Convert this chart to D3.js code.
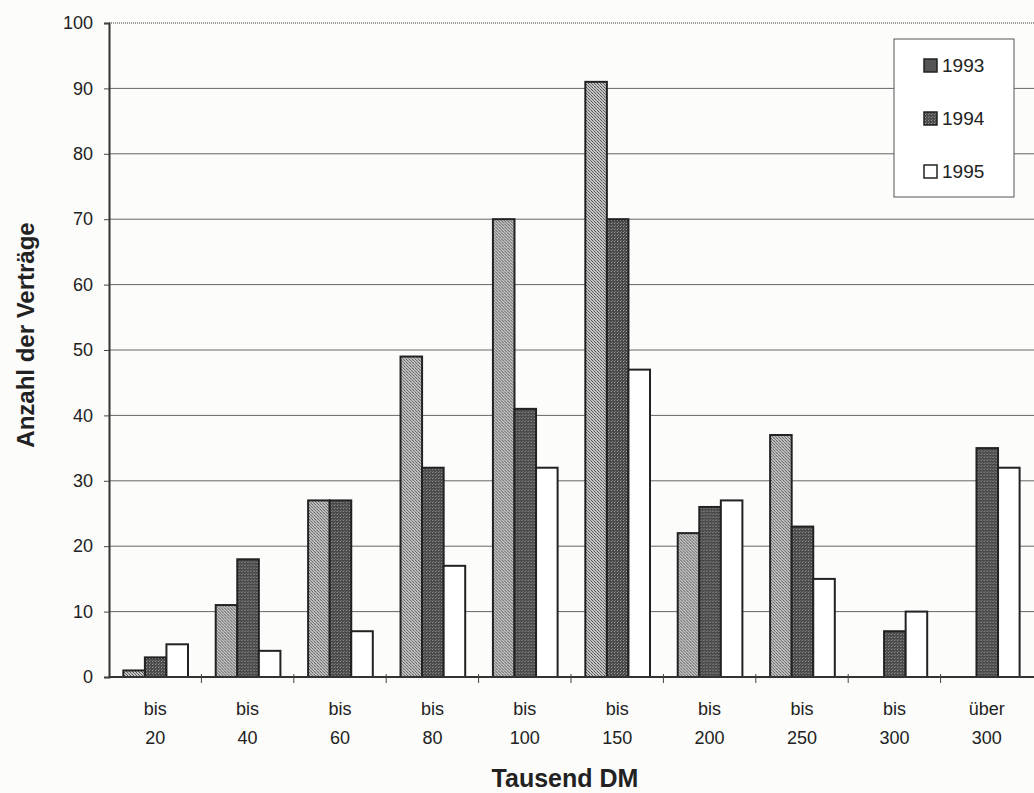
<!DOCTYPE html>
<html>
<head>
<meta charset="utf-8">
<script src="https://cdn.jsdelivr.net/npm/d3@7"></script>
<style>
  body { margin: 0; background: #fcfcfb; }
  svg { display: block; font-family: "Liberation Sans", Arial, sans-serif; }
  .grid line { stroke: #666; stroke-width: 1; }
  .ylab text { font-size: 18px; fill: #222; }
  .xlab text { font-size: 18px; fill: #222; }
</style>
</head>
<body>
<div id="chart"></div>
<script>
// data
var categories = ["bis 20", "bis 40", "bis 60", "bis 80", "bis 100", "bis 150", "bis 200", "bis 250", "bis 300", "über 300"];
var years = ["1993", "1994", "1995"];
var v1993 = [1, 11, 27, 49, 70, 91, 22, 37, 0, 0];
var v1994 = [3, 18, 27, 32, 41, 70, 26, 23, 7, 35];
var v1995 = [5, 4, 7, 17, 32, 47, 27, 15, 10, 32];
var yTicks = [0, 10, 20, 30, 40, 50, 60, 70, 80, 90, 100];

var series = { "1993": v1993, "1994": v1994, "1995": v1995 };

var W = 1034, H = 793;
var plotL = 109, plotR = 1033, plotT = 23, plotB = 677;

var svg = d3.select("#chart").append("svg")
    .attr("width", W).attr("height", H);

// dither fills like the print
var defs = svg.append("defs");
var p1 = defs.append("pattern").attr("id", "pat1993")
    .attr("patternUnits", "userSpaceOnUse").attr("width", 3).attr("height", 3);
p1.append("rect").attr("width", 3).attr("height", 3).attr("fill", "#c4c4c4");
p1.append("rect").attr("x", 0).attr("y", 0).attr("width", 1).attr("height", 1).attr("fill", "#555");
p1.append("rect").attr("x", 1).attr("y", 1).attr("width", 1).attr("height", 1).attr("fill", "#777");
p1.append("rect").attr("x", 2).attr("y", 2).attr("width", 1).attr("height", 1).attr("fill", "#555");

var p2 = defs.append("pattern").attr("id", "pat1994")
    .attr("patternUnits", "userSpaceOnUse").attr("width", 3).attr("height", 3);
p2.append("rect").attr("width", 3).attr("height", 3).attr("fill", "#4a4a4a");
p2.append("rect").attr("x", 1).attr("y", 1).attr("width", 1).attr("height", 1).attr("fill", "#9a9a9a");
p2.append("rect").attr("x", 2).attr("y", 0).attr("width", 1).attr("height", 1).attr("fill", "#777");

var fills = { "1993": "url(#pat1993)", "1994": "url(#pat1994)", "1995": "#fff" };

var x0 = d3.scaleBand().domain(categories).range([plotL, plotR]).padding(0);
var bw = x0.bandwidth();
var x1 = d3.scaleBand().domain(years).range([bw * 0.155, bw * 0.855]).padding(0);
var y = d3.scaleLinear().domain([0, 100]).range([plotB, plotT]);

// gridlines
svg.append("g").attr("class", "grid")
  .selectAll("line").data(yTicks.slice(1, -1)).join("line")
    .attr("x1", plotL).attr("x2", W)
    .attr("y1", function(d) { return y(d); })
    .attr("y2", function(d) { return y(d); });

// top border of plot area, dotted like the scan
svg.append("line")
    .attr("x1", plotL).attr("x2", W).attr("y1", y(100)).attr("y2", y(100))
    .attr("stroke", "#777").attr("stroke-width", 1.5).attr("stroke-dasharray", "1,1");

// bars
var groups = svg.append("g").selectAll("g").data(categories).join("g")
    .attr("transform", function(c) { return "translate(" + x0(c) + ",0)"; });

groups.selectAll("rect")
  .data(function(c, i) {
      return years.map(function(yr) { return { year: yr, value: series[yr][i] }; })
          .filter(function(d) { return d.value > 0; });
  })
  .join("rect")
    .attr("x", function(d) { return x1(d.year); })
    .attr("width", x1.bandwidth())
    .attr("y", function(d) { return y(d.value); })
    .attr("height", function(d) { return y(0) - y(d.value); })
    .attr("fill", function(d) { return fills[d.year]; })
    .attr("stroke", "#222")
    .attr("stroke-width", 2);

// y axis
var yAxis = svg.append("g").attr("class", "ylab")
    .attr("transform", "translate(" + plotL + ",0)")
    .call(d3.axisLeft(y).tickValues(yTicks).tickSize(5).tickPadding(11));
yAxis.select(".domain").attr("stroke", "#333").attr("stroke-width", 2);
yAxis.selectAll(".tick line").attr("stroke", "#444");

// x axis line and boundary ticks
svg.append("line")
    .attr("x1", plotL).attr("x2", W).attr("y1", plotB).attr("y2", plotB)
    .attr("stroke", "#333").attr("stroke-width", 2);
svg.append("g").selectAll("line").data(categories.slice(1)).join("line")
    .attr("x1", function(c) { return x0(c); })
    .attr("x2", function(c) { return x0(c); })
    .attr("y1", plotB - 3).attr("y2", plotB + 6)
    .attr("stroke", "#444");

// two-line category labels
var xl = svg.append("g").attr("class", "xlab").selectAll("text").data(categories).join("text")
    .attr("text-anchor", "middle")
    .attr("transform", function(c) { return "translate(" + (x0(c) + bw / 2) + ",0)"; });
xl.selectAll("tspan").data(function(c) { return c.split(" "); }).join("tspan")
    .attr("x", 0)
    .attr("y", function(d, i) { return 715 + i * 29; })
    .text(function(d) { return d; });

// axis titles
svg.append("text")
    .attr("transform", "translate(34,335) rotate(-90)")
    .attr("text-anchor", "middle")
    .attr("font-size", 24).attr("font-weight", "bold").attr("fill", "#222")
    .text("Anzahl der Verträge");

svg.append("text")
    .attr("x", 565).attr("y", 787)
    .attr("text-anchor", "middle")
    .attr("font-size", 25).attr("font-weight", "bold").attr("fill", "#222")
    .text("Tausend DM");

// legend
var legend = svg.append("g");
legend.append("rect")
    .attr("x", 894).attr("y", 39).attr("width", 120).attr("height", 158)
    .attr("fill", "#fff").attr("stroke", "#555").attr("stroke-width", 1);
var li = legend.selectAll("g").data(years).join("g")
    .attr("transform", function(d, i) { return "translate(924," + (72 + i * 53) + ")"; });
li.append("rect")
    .attr("x", 0).attr("y", -13).attr("width", 13).attr("height", 13)
    .attr("fill", function(d) { return d === "1993" ? "#555" : fills[d]; })
    .attr("stroke", "#222").attr("stroke-width", 1.5);
li.append("text")
    .attr("x", 18).attr("y", 0)
    .attr("font-size", 19).attr("fill", "#222")
    .text(function(d) { return d; });
</script>
</body>
</html>
